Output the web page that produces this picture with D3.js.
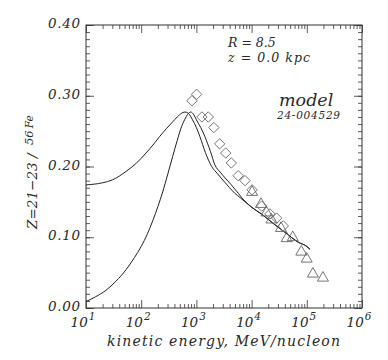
<!DOCTYPE html>
<html>
<head>
<meta charset="utf-8">
<script src="https://cdn.jsdelivr.net/npm/d3@7"></script>
<style>
html,body{margin:0;padding:0;background:#fff;}
text{font-family:"DejaVu Serif",serif;font-style:italic;fill:#2a2a2a;}
</style>
</head>
<body>
<svg id="c" width="388" height="360"></svg>
<script>
// ---- data ----
const xTickExponents = [1, 2, 3, 4, 5, 6];
const yTickLabels = ["0.00", "0.10", "0.20", "0.30", "0.40"];
const yTickValues = [0, 0.1, 0.2, 0.3, 0.4];

// model curve 1 (broad, high at low energy)
const curve1E = [10, 20, 30, 53, 80, 122, 170, 214, 290, 371, 450, 530, 620, 720, 850, 1000, 1160, 1450, 1890, 2400, 3000, 4000, 5000, 6200, 10000, 15000, 24700, 40000, 70000, 100000, 114000];
const curve1V = [0.174, 0.177, 0.181, 0.193, 0.204, 0.219, 0.232, 0.242, 0.254, 0.263, 0.270, 0.275, 0.277, 0.275, 0.266, 0.255, 0.242, 0.220, 0.200, 0.190, 0.181, 0.170, 0.162, 0.156, 0.1425, 0.133, 0.1195, 0.107, 0.093, 0.087, 0.083];
// model curve 2 (low at low energy)
const curve2E = [10, 15, 23, 35, 53, 75, 100, 130, 163, 200, 245, 300, 371, 450, 525, 620, 700, 790, 900, 1000, 1200, 1430, 1800, 2170, 2700, 3300, 4300, 5760, 6800, 10000, 15000, 24700, 40000, 70000, 100000, 114000];
const curve2V = [0.009, 0.016, 0.025, 0.038, 0.054, 0.071, 0.087, 0.105, 0.124, 0.143, 0.164, 0.188, 0.214, 0.237, 0.254, 0.267, 0.274, 0.277, 0.273, 0.266, 0.255, 0.242, 0.221, 0.202, 0.192, 0.184, 0.174, 0.162, 0.155, 0.1425, 0.133, 0.1195, 0.107, 0.093, 0.087, 0.083];

// data: diamonds
const diamondE = [832, 1010, 1260, 1640, 2070, 2640, 3400, 4290, 5710, 7590, 10200, 15200, 21500, 28500, 37500];
const diamondV = [0.293, 0.302, 0.270, 0.270, 0.255, 0.232, 0.219, 0.205, 0.187, 0.180, 0.167, 0.144, 0.133, 0.127, 0.116];
// data: triangles
const triE = [10200, 14800, 18600, 22900, 34000, 43200, 55700, 79500, 99500, 129000, 196000];
const triV = [0.165, 0.148, 0.136, 0.126, 0.114, 0.0996, 0.101, 0.0806, 0.0707, 0.0495, 0.0438];

// ---- layout ----
const W = 388, H = 360;
const m = {l: 86, r: 26, t: 25, b: 52};
const svg = d3.select("#c");
const x = d3.scaleLog().domain([10, 1e6]).range([m.l, W - m.r]);
const y = d3.scaleLinear().domain([0, 0.4]).range([H - m.b, m.t]);
const ink = "#333";

// frame
svg.append("rect").attr("x", m.l).attr("y", m.t)
  .attr("width", W - m.l - m.r).attr("height", H - m.t - m.b)
  .attr("fill", "none").attr("stroke", ink).attr("stroke-width", 1);

// ticks via axes (inward)
const majX = xTickExponents.map(e => Math.pow(10, e));
const minX = [];
for (let e = 1; e < 6; e++) for (let k = 2; k <= 9; k++) minX.push(k * Math.pow(10, e));
const minY = d3.range(0, 41).map(i => i / 100);

function tickAxis(axisGen, vals, size, tx, ty) {
  const g = svg.append("g").attr("transform", `translate(${tx},${ty})`)
    .call(axisGen.tickValues(vals).tickSize(size).tickFormat(""));
  g.select(".domain").remove();
  g.selectAll("line").attr("stroke", ink).attr("stroke-width", 0.8);
  return g;
}
tickAxis(d3.axisTop(x), majX, 8, 0, H - m.b);
tickAxis(d3.axisTop(x), minX, 4, 0, H - m.b);
tickAxis(d3.axisBottom(x), majX, 8, 0, m.t);
tickAxis(d3.axisBottom(x), minX, 4, 0, m.t);
tickAxis(d3.axisRight(y), yTickValues, 8, m.l, 0);
tickAxis(d3.axisRight(y), minY, 4, m.l, 0);
tickAxis(d3.axisLeft(y), yTickValues, 8, W - m.r, 0);
tickAxis(d3.axisLeft(y), minY, 4, W - m.r, 0);

// y tick labels
svg.append("g").selectAll("text").data(yTickValues).join("text")
  .attr("x", m.l - 6).attr("y", d => y(d) + 3)
  .attr("text-anchor", "end").attr("font-size", 13.5)
  .attr("textLength", 32).attr("lengthAdjust", "spacing")
  .text((d, i) => yTickLabels[i]);

// x tick labels 10^n
const xl = svg.append("g").selectAll("text").data(xTickExponents).join("text")
  .attr("x", d => x(Math.pow(10, d)) - 3).attr("y", H - m.b + 19)
  .attr("text-anchor", "middle").attr("font-size", 13.5);
xl.append("tspan").text("10");
xl.append("tspan").attr("dy", -7).attr("dx", 1).attr("font-size", 10.5).text(d => d);

// x label
svg.append("text").attr("x", 107).attr("y", 346)
  .attr("font-size", 14).attr("textLength", 233).attr("lengthAdjust", "spacing")
  .text("kinetic energy, MeV/nucleon");

// y label
const yl = svg.append("text").attr("transform", "translate(37,229) rotate(-90)")
  .attr("font-size", 13.5);
yl.append("tspan").attr("textLength", 80).attr("lengthAdjust", "spacing").text("Z=21\u221223 / ");
yl.append("tspan").attr("dy", -4).attr("dx", 4).attr("font-size", 11.5).text("56");
yl.append("tspan").attr("font-size", 10.5).attr("dx", 2).text("Fe");

// annotations
svg.append("text").attr("x", 228).attr("y", 47).attr("font-size", 12.5).text("R\u00a0=\u00a08.5");
svg.append("text").attr("x", 228).attr("y", 62).attr("font-size", 12.5)
  .attr("textLength", 82).attr("lengthAdjust", "spacing").text("z\u00a0=\u00a00.0\u00a0kpc");
svg.append("text").attr("x", 279).attr("y", 106).attr("font-size", 17.5).text("model");
svg.append("text").attr("x", 277).attr("y", 119).attr("font-size", 10.5)
  .attr("textLength", 63).attr("lengthAdjust", "spacing").text("24-004529");

// curves
const line = d3.line().x(d => x(d[0])).y(d => y(d[1])).curve(d3.curveMonotoneX);
svg.append("path").attr("d", line(d3.zip(curve1E, curve1V)))
  .attr("fill", "none").attr("stroke", "#222").attr("stroke-width", 1);
svg.append("path").attr("d", line(d3.zip(curve2E, curve2V)))
  .attr("fill", "none").attr("stroke", "#222").attr("stroke-width", 1);

// diamonds
const ds = 5.2;
svg.append("g").selectAll("path").data(d3.zip(diamondE, diamondV)).join("path")
  .attr("d", d => { const cx = x(d[0]), cy = y(d[1]);
    return `M${cx},${cy - ds}L${cx + ds},${cy}L${cx},${cy + ds}L${cx - ds},${cy}Z`; })
  .attr("fill", "none").attr("stroke", "#666").attr("stroke-width", 0.9);

// triangles
const ts = 5.5;
svg.append("g").selectAll("path").data(d3.zip(triE, triV)).join("path")
  .attr("d", d => { const cx = x(d[0]), cy = y(d[1]);
    return `M${cx},${cy - ts}L${cx + ts},${cy + ts * 0.75}L${cx - ts},${cy + ts * 0.75}Z`; })
  .attr("fill", "none").attr("stroke", "#666").attr("stroke-width", 0.9);
</script>
</body>
</html>
